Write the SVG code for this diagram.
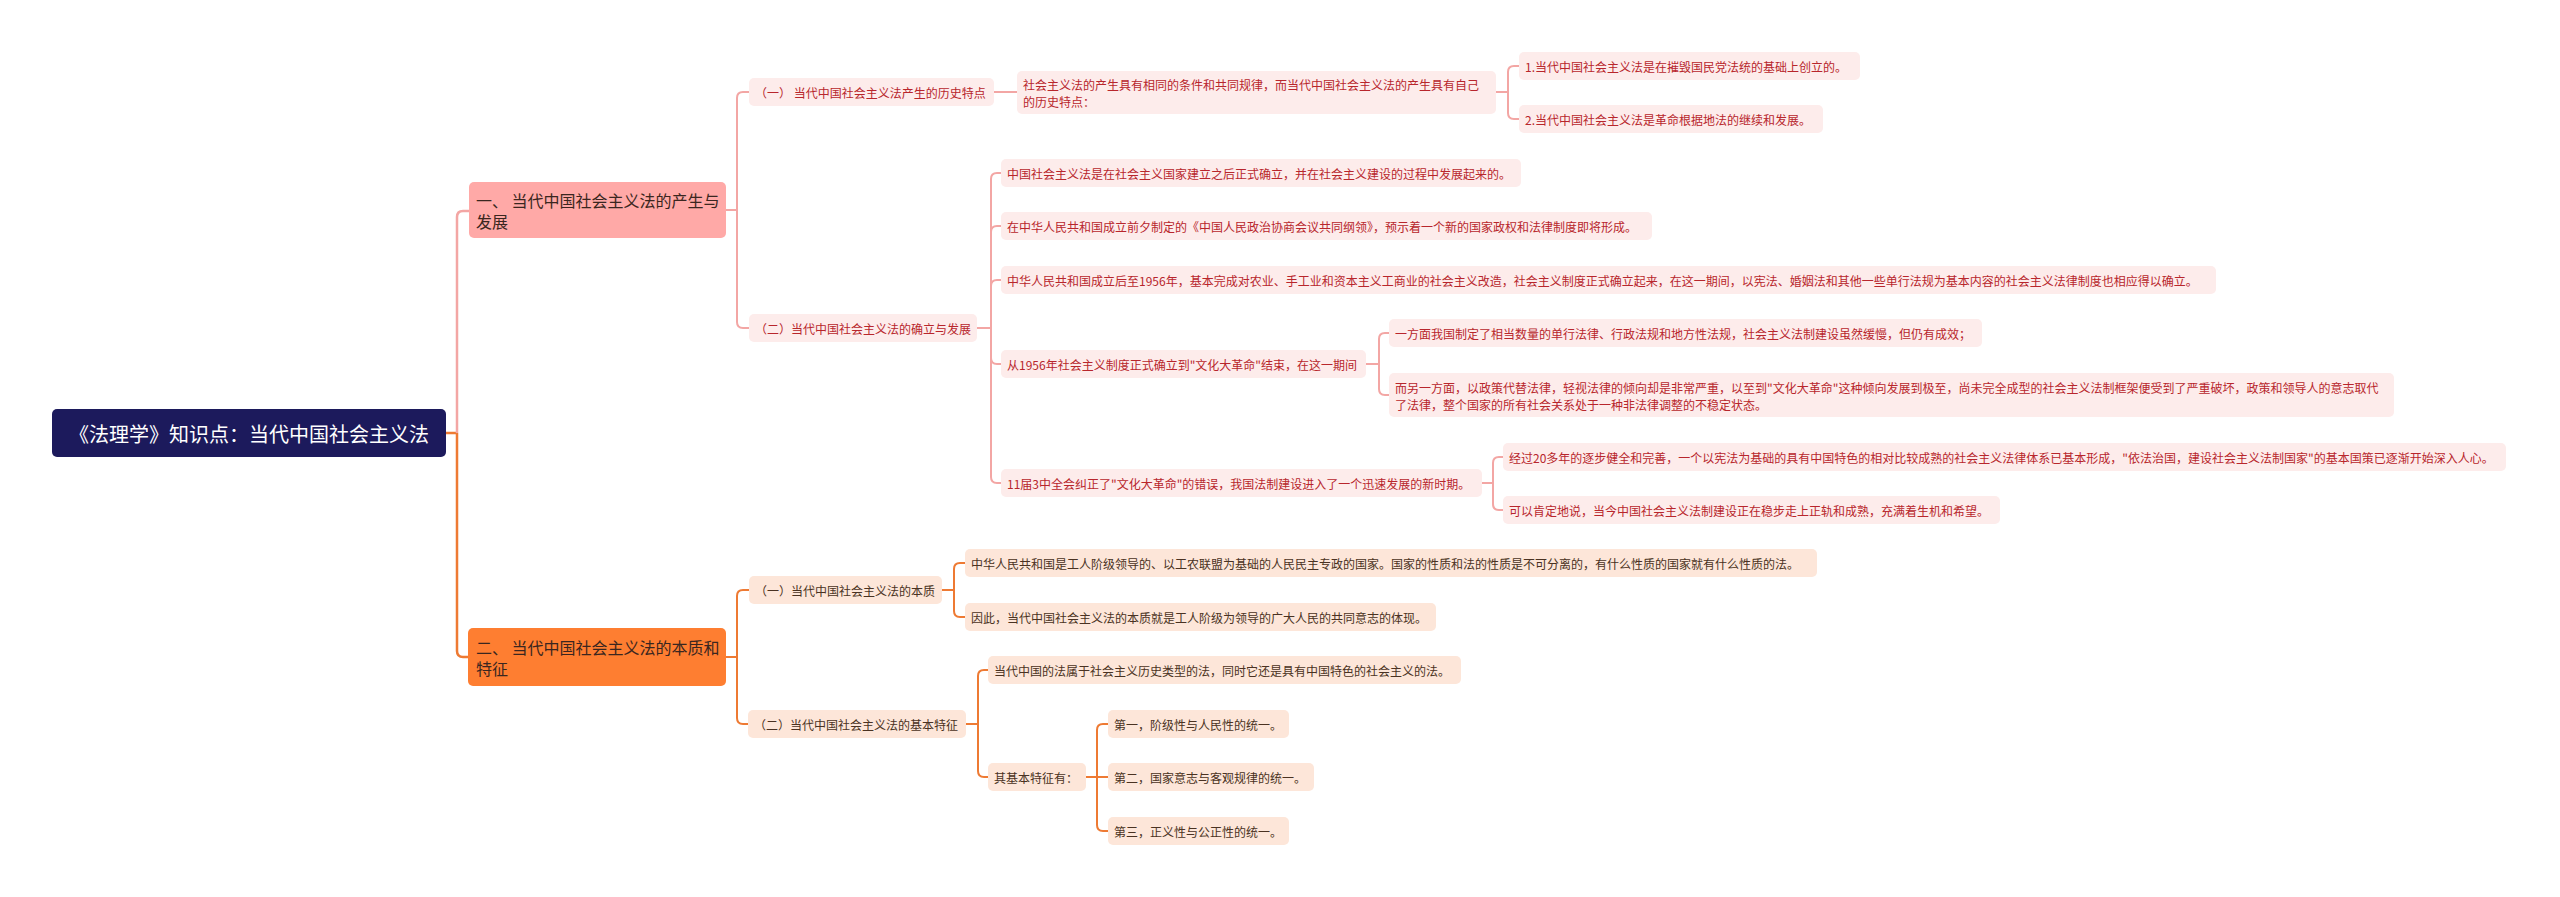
<svg xmlns="http://www.w3.org/2000/svg" width="2560" height="897" viewBox="0 0 2560 897">
<style>
text{font-family:"Noto Sans CJK SC","Noto Sans",sans-serif;dominant-baseline:central}
.root rect{fill:#1C1A5C}
.root text{fill:#ffffff;font-size:20px}
.l1a rect{fill:#FFA9A7}
.l1b rect{fill:#FE7E31}
.l1a text,.l1b text{fill:#3a2620;font-size:16px}
.pa rect{fill:#FDECEB}
.pa text{fill:#B8262C;font-size:12px}
.ob rect{fill:#FDE6D9}
.ob text{fill:#4a3222;font-size:12px}
.cp{fill:none;stroke:#F3A6A4;stroke-width:2}
.co{fill:none;stroke:#EE7A33;stroke-width:2}
.thick{stroke-width:2.5}
</style>
<rect width="2560" height="897" fill="#ffffff"/>
<g id="connectors">
<path class="co thick" d="M446,433 H457"/>
<path class="cp thick" d="M457,433 V217 Q457,211 463,211 H469"/>
<path class="co thick" d="M457,433 V651 Q457,657 463,657 H468"/>
<path class="cp" d="M726,210 H737 V98 Q737,92 743,92 H749"/>
<path class="cp" d="M737,210 V322 Q737,328 743,328 H749"/>
<path class="cp" d="M994,92 H1017"/>
<path class="cp" d="M1496,92 H1508 V72 Q1508,66 1514,66 H1519"/>
<path class="cp" d="M1508,92 V113 Q1508,119 1514,119 H1519"/>
<path class="cp" d="M977,328 H991 V179 Q991,173 997,173 H1001"/>
<path class="cp" d="M991,328 V232 Q991,226 997,226 H1001"/>
<path class="cp" d="M991,328 V286 Q991,280 997,280 H1001"/>
<path class="cp" d="M991,328 V358 Q991,364 997,364 H1001"/>
<path class="cp" d="M991,328 V477 Q991,483 997,483 H1001"/>
<path class="cp" d="M1366,364 H1379 V339 Q1379,333 1385,333 H1389"/>
<path class="cp" d="M1379,364 V389 Q1379,395 1385,395 H1389"/>
<path class="cp" d="M1482,483 H1493 V463 Q1493,457 1499,457 H1503"/>
<path class="cp" d="M1493,483 V504 Q1493,510 1499,510 H1503"/>
<path class="co" d="M726,657 H737 V596 Q737,590 743,590 H749"/>
<path class="co" d="M737,657 V718 Q737,724 743,724 H748"/>
<path class="co" d="M942,590 H954 V569 Q954,563 960,563 H965"/>
<path class="co" d="M954,590 V611 Q954,617 960,617 H965"/>
<path class="co" d="M966,724 H978 V676 Q978,670 984,670 H988"/>
<path class="co" d="M978,724 V771 Q978,777 984,777 H988"/>
<path class="co" d="M1086,777 H1097 V730 Q1097,724 1103,724 H1108"/>
<path class="co" d="M1097,777 H1108"/>
<path class="co" d="M1097,777 V825 Q1097,831 1103,831 H1108"/>
</g>
<g id="n-root" class="root"><rect x="52" y="409" width="394" height="48" rx="5"/><text x="249" y="433" text-anchor="middle">《法理学》知识点：当代中国社会主义法</text></g>
<g id="n1" class="l1a"><rect x="469" y="182" width="257" height="56" rx="5"/><text x="476" y="200">一、 当代中国社会主义法的产生与</text><text x="476" y="221">发展</text></g>
<g id="n1-1" class="pa"><rect x="749" y="78" width="245" height="28" rx="5"/><text x="755" y="92">（一） 当代中国社会主义法产生的历史特点</text></g>
<g id="n1-1-1" class="pa"><rect x="1017" y="71" width="479" height="43" rx="5"/><text x="1023" y="84">社会主义法的产生具有相同的条件和共同规律，而当代中国社会主义法的产生具有自己</text><text x="1023" y="101">的历史特点：</text></g>
<g id="n1-1-1-1" class="pa"><rect x="1519" y="52" width="341" height="28" rx="5"/><text x="1525" y="66">1.当代中国社会主义法是在摧毁国民党法统的基础上创立的。</text></g>
<g id="n1-1-1-2" class="pa"><rect x="1519" y="105" width="304" height="28" rx="5"/><text x="1525" y="119">2.当代中国社会主义法是革命根据地法的继续和发展。</text></g>
<g id="n1-2" class="pa"><rect x="749" y="314" width="228" height="28" rx="5"/><text x="755" y="328">（二）当代中国社会主义法的确立与发展</text></g>
<g id="n1-2-1" class="pa"><rect x="1001" y="159" width="520" height="28" rx="5"/><text x="1007" y="173">中国社会主义法是在社会主义国家建立之后正式确立，并在社会主义建设的过程中发展起来的。</text></g>
<g id="n1-2-2" class="pa"><rect x="1001" y="212" width="651" height="28" rx="5"/><text x="1007" y="226">在中华人民共和国成立前夕制定的《中国人民政治协商会议共同纲领》，预示着一个新的国家政权和法律制度即将形成。</text></g>
<g id="n1-2-3" class="pa"><rect x="1001" y="266" width="1215" height="28" rx="5"/><text x="1007" y="280">中华人民共和国成立后至1956年，基本完成对农业、手工业和资本主义工商业的社会主义改造，社会主义制度正式确立起来，在这一期间，以宪法、婚姻法和其他一些单行法规为基本内容的社会主义法律制度也相应得以确立。</text></g>
<g id="n1-2-4" class="pa"><rect x="1001" y="350" width="365" height="28" rx="5"/><text x="1007" y="364">从1956年社会主义制度正式确立到"文化大革命"结束，在这一期间</text></g>
<g id="n1-2-4-1" class="pa"><rect x="1389" y="319" width="593" height="28" rx="5"/><text x="1395" y="333">一方面我国制定了相当数量的单行法律、行政法规和地方性法规，社会主义法制建设虽然缓慢，但仍有成效；</text></g>
<g id="n1-2-4-2" class="pa"><rect x="1389" y="373" width="1005" height="44" rx="5"/><text x="1395" y="387">而另一方面，以政策代替法律，轻视法律的倾向却是非常严重，以至到"文化大革命"这种倾向发展到极至，尚未完全成型的社会主义法制框架便受到了严重破坏，政策和领导人的意志取代</text><text x="1395" y="404">了法律，整个国家的所有社会关系处于一种非法律调整的不稳定状态。</text></g>
<g id="n1-2-5" class="pa"><rect x="1001" y="469" width="481" height="28" rx="5"/><text x="1007" y="483">11届3中全会纠正了"文化大革命"的错误，我国法制建设进入了一个迅速发展的新时期。</text></g>
<g id="n1-2-5-1" class="pa"><rect x="1503" y="443" width="1003" height="28" rx="5"/><text x="1509" y="457">经过20多年的逐步健全和完善，一个以宪法为基础的具有中国特色的相对比较成熟的社会主义法律体系已基本形成，"依法治国，建设社会主义法制国家"的基本国策已逐渐开始深入人心。</text></g>
<g id="n1-2-5-2" class="pa"><rect x="1503" y="496" width="497" height="28" rx="5"/><text x="1509" y="510">可以肯定地说，当今中国社会主义法制建设正在稳步走上正轨和成熟，充满着生机和希望。</text></g>
<g id="n2" class="l1b"><rect x="468" y="628" width="258" height="58" rx="5"/><text x="476" y="647">二、 当代中国社会主义法的本质和</text><text x="476" y="668">特征</text></g>
<g id="n2-1" class="ob"><rect x="749" y="576" width="193" height="28" rx="5"/><text x="755" y="590">（一）当代中国社会主义法的本质</text></g>
<g id="n2-1-1" class="ob"><rect x="965" y="549" width="852" height="28" rx="5"/><text x="971" y="563">中华人民共和国是工人阶级领导的、以工农联盟为基础的人民民主专政的国家。国家的性质和法的性质是不可分离的，有什么性质的国家就有什么性质的法。</text></g>
<g id="n2-1-2" class="ob"><rect x="965" y="603" width="471" height="28" rx="5"/><text x="971" y="617">因此，当代中国社会主义法的本质就是工人阶级为领导的广大人民的共同意志的体现。</text></g>
<g id="n2-2" class="ob"><rect x="748" y="710" width="218" height="28" rx="5"/><text x="754" y="724">（二）当代中国社会主义法的基本特征</text></g>
<g id="n2-2-1" class="ob"><rect x="988" y="656" width="473" height="28" rx="5"/><text x="994" y="670">当代中国的法属于社会主义历史类型的法，同时它还是具有中国特色的社会主义的法。</text></g>
<g id="n2-2-2" class="ob"><rect x="988" y="763" width="98" height="28" rx="5"/><text x="994" y="777">其基本特征有：</text></g>
<g id="n2-2-2-1" class="ob"><rect x="1108" y="710" width="181" height="28" rx="5"/><text x="1114" y="724">第一，阶级性与人民性的统一。</text></g>
<g id="n2-2-2-2" class="ob"><rect x="1108" y="763" width="206" height="28" rx="5"/><text x="1114" y="777">第二，国家意志与客观规律的统一。</text></g>
<g id="n2-2-2-3" class="ob"><rect x="1108" y="817" width="181" height="28" rx="5"/><text x="1114" y="831">第三，正义性与公正性的统一。</text></g>
</svg>
